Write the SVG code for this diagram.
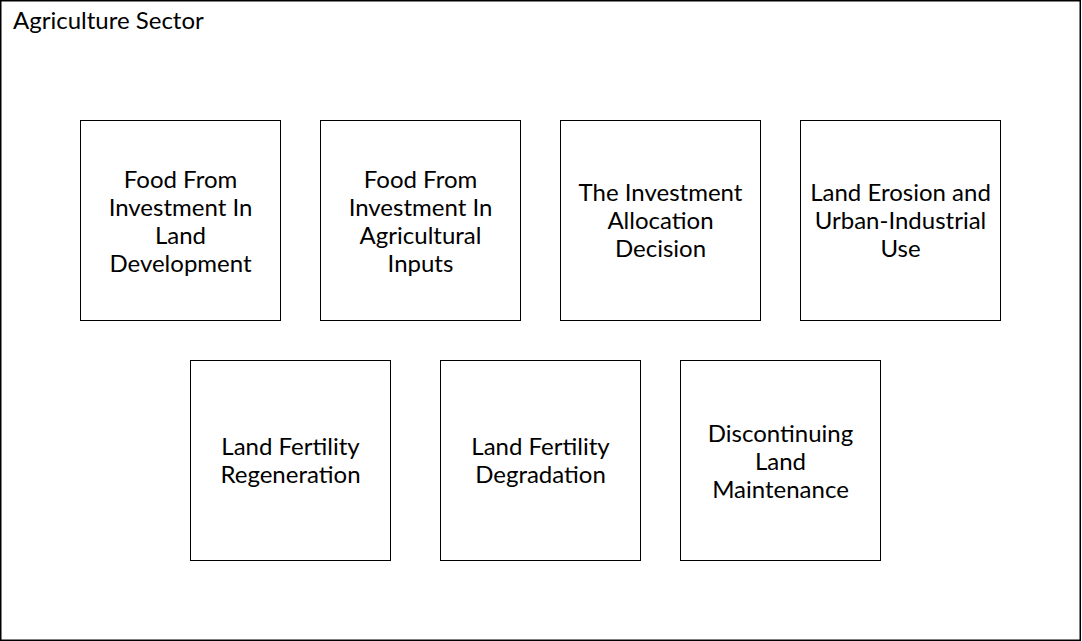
<svg xmlns="http://www.w3.org/2000/svg" width="1082" height="641" viewBox="0 0 1082 641">
<style>
.frame{fill:#fff;stroke:#000;stroke-width:1.5}
.box{fill:#fff;stroke:#000;stroke-width:1}
text{font-family:Lato,"Open Sans",sans-serif;font-size:24px;fill:#000}
.c{text-anchor:middle}
</style>
<g id="sector">
<rect class="frame" x="0.75" y="0.75" width="1079.5" height="639.5"/>
<text x="13" y="29">Agriculture Sector</text>
</g>
<g id="n1"><rect class="box" x="80.5" y="120.5" width="200" height="200"/>
<text class="c"><tspan x="180.5" y="188">Food From</tspan><tspan x="180.5" y="216">Investment In</tspan><tspan x="180.5" y="244">Land</tspan><tspan x="180.5" y="272">Development</tspan></text></g>
<g id="n2"><rect class="box" x="320.5" y="120.5" width="200" height="200"/>
<text class="c"><tspan x="420.5" y="188">Food From</tspan><tspan x="420.5" y="216">Investment In</tspan><tspan x="420.5" y="244">Agricultural</tspan><tspan x="420.5" y="272">Inputs</tspan></text></g>
<g id="n3"><rect class="box" x="560.5" y="120.5" width="200" height="200"/>
<text class="c"><tspan x="660.5" y="201">The Investment</tspan><tspan x="660.5" y="229">Allocation</tspan><tspan x="660.5" y="257">Decision</tspan></text></g>
<g id="n4"><rect class="box" x="800.5" y="120.5" width="200" height="200"/>
<text class="c"><tspan x="900.5" y="201">Land Erosion and</tspan><tspan x="900.5" y="229">Urban-Industrial</tspan><tspan x="900.5" y="257">Use</tspan></text></g>
<g id="n5"><rect class="box" x="190.5" y="360.5" width="200" height="200"/>
<text class="c"><tspan x="290.5" y="455">Land Fertility</tspan><tspan x="290.5" y="483">Regeneration</tspan></text></g>
<g id="n6"><rect class="box" x="440.5" y="360.5" width="200" height="200"/>
<text class="c"><tspan x="540.5" y="455">Land Fertility</tspan><tspan x="540.5" y="483">Degradation</tspan></text></g>
<g id="n7"><rect class="box" x="680.5" y="360.5" width="200" height="200"/>
<text class="c"><tspan x="780.5" y="442">Discontinuing</tspan><tspan x="780.5" y="470">Land</tspan><tspan x="780.5" y="498">Maintenance</tspan></text></g>
<g id="connectors"></g>
</svg>
